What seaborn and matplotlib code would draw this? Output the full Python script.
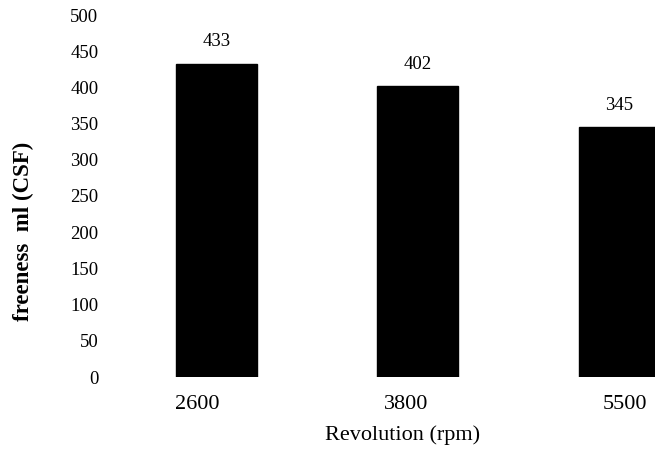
import matplotlib
matplotlib.use("Agg")
import matplotlib.pyplot as plt
import matplotlib.transforms as mtransforms
import seaborn as sns
import pandas as pd

revolutions = ["2600", "3800", "5500"]
freeness = [433, 402, 345]
yticks = [0, 50, 100, 150, 200, 250, 300, 350, 400, 450, 500]

sns.set_style("white")
plt.rcParams['font.family'] = ['Liberation Serif', 'DejaVu Serif']
plt.rcParams['text.color'] = 'black'
plt.rcParams['axes.labelcolor'] = 'black'
plt.rcParams['xtick.color'] = 'black'
plt.rcParams['ytick.color'] = 'black'

df = pd.DataFrame({"rev": revolutions, "val": freeness})

fig = plt.figure(figsize=(6.55, 4.53), dpi=100)
W, H = 655, 453
L, R, T, B = 115, 655, 15, 377
ax = fig.add_axes([L / W, 1 - B / H, (R - L) / W, (B - T) / H])

sns.barplot(data=df, x="rev", y="val", color="black", width=0.4,
            saturation=1, ax=ax, edgecolor="black")

ax.set_xlim(-0.505, 2.18)
ax.set_ylim(0, 500)
ax.set_yticks(yticks)
ax.set_yticklabels([str(t) for t in yticks], fontsize=13.5)
ax.tick_params(axis='y', length=0, pad=12)
ax.tick_params(axis='x', length=0, pad=13, labelsize=16)
for s in ax.spines.values():
    s.set_visible(False)

# small horizontal offsets of the category labels as in the reference
offsets_px = [-19, -12, 6]
for lab, dx in zip(ax.get_xticklabels(), offsets_px):
    lab.set_transform(lab.get_transform() +
                      mtransforms.ScaledTranslation(dx / 100, 0, fig.dpi_scale_trans))

for i, v in enumerate(freeness):
    ax.text(i, v + 18, str(v), ha='center', va='bottom', fontsize=13.5)

ax.set_xlabel("Revolution (rpm)", fontsize=16)
ax.xaxis.set_label_coords((403 - L) / (R - L), (B - 425) / (B - T))
ax.set_ylabel("freeness  ml (CSF)", fontsize=16.5, fontweight='bold')
ax.yaxis.set_label_coords((34 - L) / (R - L), (B - 231) / (B - T))

fig.savefig("out.png", dpi=100)
